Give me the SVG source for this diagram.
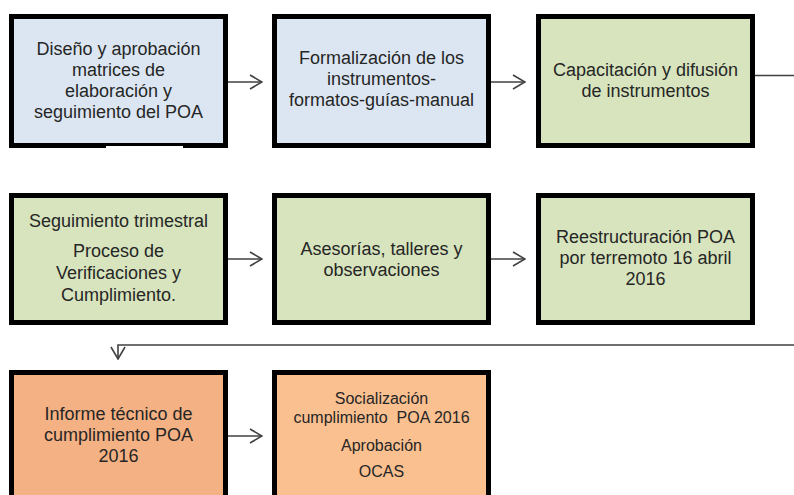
<svg xmlns="http://www.w3.org/2000/svg" width="794" height="495" viewBox="0 0 794 495">
<style>
  .box { stroke: #000; stroke-width: 5; }
  .blue { fill: #dce6f2; }
  .green { fill: #d7e4bd; }
  .orange1 { fill: #f4b183; }
  .orange2 { fill: #fac090; }
  text { font-family: "Liberation Sans", Arial, sans-serif; font-size: 18px; fill: #262626; text-anchor: middle; }
  text.small { font-size: 16px; }
  .conn { stroke: #404040; stroke-width: 1.6; fill: none; }
</style>
<defs>
  <marker id="arrow" viewBox="0 0 14 16" refX="13" refY="8" markerWidth="14" markerHeight="16" markerUnits="userSpaceOnUse" orient="auto">
    <path d="M1,1 L13,8 L1,15" fill="none" stroke="#404040" stroke-width="1.6"/>
  </marker>
</defs>
<rect width="794" height="495" fill="#fff"/>

<g id="connectors">
  <path class="conn" d="M228,82 H262" marker-end="url(#arrow)"/>
  <path class="conn" d="M491,82 H525" marker-end="url(#arrow)"/>
  <path class="conn" d="M755,75.5 H794"/>
  <path class="conn" d="M228,259 H262" marker-end="url(#arrow)"/>
  <path class="conn" d="M491,259 H525" marker-end="url(#arrow)"/>
  <path class="conn" d="M794,345 H118 V359" marker-end="url(#arrow)"/>
  <path class="conn" d="M228,436 H262" marker-end="url(#arrow)"/>
</g>

<g id="node1">
  <rect class="box blue" x="11.5" y="16.5" width="214" height="129"/>
  <rect x="106" y="146" width="77" height="4" fill="#fff"/>
  <text x="118.5" y="55">Diseño y aprobación</text>
  <text x="118.5" y="76">matrices de</text>
  <text x="118.5" y="97">elaboración y</text>
  <text x="118.5" y="118">seguimiento del POA</text>
</g>

<g id="node2">
  <rect class="box blue" x="274.5" y="16.5" width="214" height="129"/>
  <text x="381.5" y="64">Formalización de los</text>
  <text x="381.5" y="85">instrumentos-</text>
  <text x="381.5" y="106">formatos-guías-manual</text>
</g>

<g id="node3">
  <rect class="box green" x="538.5" y="16.5" width="214" height="129"/>
  <text x="645.5" y="76">Capacitación y difusión</text>
  <text x="645.5" y="97">de instrumentos</text>
</g>

<g id="node4">
  <rect class="box green" x="11.5" y="195.5" width="214" height="127"/>
  <text x="118.5" y="227">Seguimiento trimestral</text>
  <text x="118.5" y="257">Proceso de</text>
  <text x="118.5" y="279">Verificaciones y</text>
  <text x="118.5" y="301">Cumplimiento.</text>
</g>

<g id="node5">
  <rect class="box green" x="274.5" y="195.5" width="214" height="127"/>
  <text x="381.5" y="255">Asesorías, talleres y</text>
  <text x="381.5" y="276">observaciones</text>
</g>

<g id="node6">
  <rect class="box green" x="538.5" y="195.5" width="214" height="127"/>
  <text x="645.5" y="243">Reestructuración POA</text>
  <text x="645.5" y="264">por terremoto 16 abril</text>
  <text x="645.5" y="285">2016</text>
</g>

<g id="node7">
  <rect class="box orange1" x="11.5" y="372.5" width="214" height="200"/>
  <text x="118.5" y="420">Informe técnico de</text>
  <text x="118.5" y="441">cumplimiento POA</text>
  <text x="118.5" y="462">2016</text>
</g>

<g id="node8">
  <rect class="box orange2" x="274.5" y="372.5" width="214" height="200"/>
  <text class="small" x="381.5" y="404">Socialización</text>
  <text class="small" x="381.5" y="423" xml:space="preserve">cumplimiento  POA 2016</text>
  <text class="small" x="381.5" y="451">Aprobación</text>
  <text class="small" x="381.5" y="477">OCAS</text>
</g>
</svg>
